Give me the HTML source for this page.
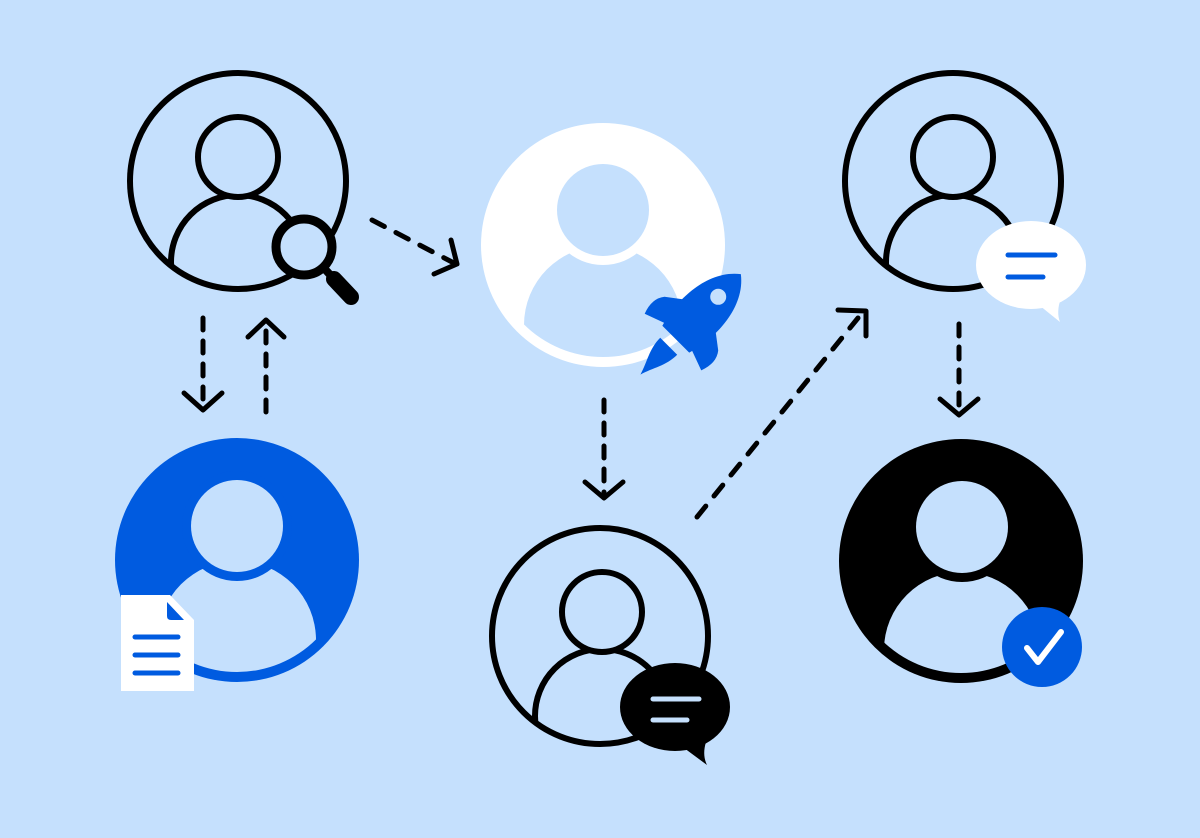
<!DOCTYPE html>
<html><head><style>html,body{margin:0;padding:0;background:#c5e0fd}svg{display:block}</style></head>
<body>
<svg width="1200" height="838" viewBox="0 0 1200 838" xmlns="http://www.w3.org/2000/svg">
<defs>
<clipPath id="c1"><circle cx="238" cy="181" r="106"/></clipPath>
<clipPath id="c4"><circle cx="600" cy="636" r="106"/></clipPath>
<clipPath id="c5"><circle cx="953" cy="181" r="106"/></clipPath>
<clipPath id="c2"><circle cx="603" cy="245" r="112"/></clipPath>
<clipPath id="c3"><circle cx="237" cy="560" r="112"/></clipPath>
<clipPath id="c6"><circle cx="961" cy="561" r="112"/></clipPath>
</defs>
<rect width="1200" height="838" fill="#c5e0fd"/>
<g fill="none" stroke="#000" stroke-width="6">
<circle cx="238" cy="181" r="108"/>
<circle cx="238" cy="262" r="67" clip-path="url(#c1)"/>
<circle cx="238" cy="157" r="40" fill="#c5e0fd"/>
<circle cx="600" cy="636" r="108"/>
<circle cx="602" cy="716" r="67" clip-path="url(#c4)"/>
<circle cx="602" cy="612" r="40" fill="#c5e0fd"/>
<circle cx="953" cy="181" r="108"/>
<circle cx="953" cy="262" r="67" clip-path="url(#c5)"/>
<circle cx="953" cy="157" r="40" fill="#c5e0fd"/>
</g>
<!-- magnifier -->
<line x1="334" y1="279" x2="351" y2="297" stroke="#000" stroke-width="16" stroke-linecap="round"/>
<line x1="322" y1="266" x2="334" y2="279" stroke="#000" stroke-width="8"/>
<circle cx="304" cy="247" r="28" fill="#c5e0fd" stroke="#000" stroke-width="9"/>
<!-- white avatar -->
<circle cx="603" cy="245" r="122" fill="#fff"/>
<circle cx="603" cy="325" r="79" fill="#c5e0fd" clip-path="url(#c2)"/>
<circle cx="603" cy="210" r="55" fill="#fff"/>
<circle cx="603" cy="210" r="46" fill="#c5e0fd"/>
<!-- rocket -->
<g transform="translate(697,318) rotate(45)" fill="#005be0">
<path d="M0,-62 C26,-42 28,0 19,30 L-19,30 C-28,0 -26,-42 0,-62Z"/>
<path d="M-17,-8 L-38,8 Q-46,18 -40,34 L-18,26Z"/>
<path d="M17,-8 L38,8 Q46,18 40,34 L18,26Z"/>
<path d="M-12,40 L12,40 C12,56 4,66 0,80 C-4,66 -12,56 -12,40Z"/>
<circle cx="0" cy="-30" r="8" fill="#c5e0fd"/>
</g>
<!-- blue avatar -->
<circle cx="237" cy="560" r="122" fill="#005be0"/>
<circle cx="237" cy="640" r="79" fill="#c5e0fd" clip-path="url(#c3)"/>
<circle cx="237" cy="526" r="55" fill="#005be0"/>
<circle cx="237" cy="526" r="46" fill="#c5e0fd"/>
<path d="M121,595 L170,595 L194,620 L194,691 L121,691Z" fill="#fff"/>
<path d="M167,602 L167,616 Q167,620 171,620 L184,620Z" fill="#005be0"/>
<g stroke="#005be0" stroke-width="5" stroke-linecap="round">
<line x1="135" y1="637" x2="178" y2="637"/><line x1="135" y1="655" x2="178" y2="655"/><line x1="135" y1="673" x2="178" y2="673"/>
</g>
<!-- black avatar -->
<circle cx="961" cy="561" r="122" fill="#000"/>
<circle cx="962" cy="650" r="78" fill="#c5e0fd" clip-path="url(#c6)"/>
<circle cx="962" cy="527" r="55" fill="#000"/>
<circle cx="962" cy="527" r="46" fill="#c5e0fd"/>
<circle cx="1042" cy="647" r="40" fill="#005be0"/>
<path d="M1027,648 L1038,662 L1061,632" fill="none" stroke="#fff" stroke-width="6" stroke-linecap="round" stroke-linejoin="round"/>
<!-- black bubble -->
<ellipse cx="675" cy="707" rx="55" ry="44" fill="#000"/>
<path d="M680,745 L707,765 Q702,755 706,742Z" fill="#000"/>
<g stroke="#c5e0fd" stroke-width="5" stroke-linecap="round"><line x1="653" y1="699" x2="699" y2="699"/><line x1="653" y1="720" x2="687" y2="720"/></g>
<!-- white bubble -->
<ellipse cx="1031" cy="265" rx="55" ry="44" fill="#fff"/>
<path d="M1034,301 L1060,322 Q1056,312 1061,298Z" fill="#fff"/>
<g stroke="#005be0" stroke-width="5" stroke-linecap="round"><line x1="1008" y1="255" x2="1055" y2="255"/><line x1="1008" y1="277" x2="1043" y2="277"/></g>
<!-- arrows -->
<g fill="none" stroke="#000" stroke-width="5" stroke-linecap="round" stroke-linejoin="round">
<path d="M203,318 L203,406" stroke-dasharray="12,11"/><path d="M184,393 L203,410 L222,393"/>
<path d="M266,412 L266,324" stroke-dasharray="12,11"/><path d="M248,337 L266,320 L284,337"/>
<path d="M372,220 L452,262" stroke-dasharray="14,13"/><path d="M434,274 L457,264 L451,240"/>
<path d="M604,400 L604,494" stroke-dasharray="12,11"/><path d="M585,482 L604,498 L623,482"/>
<path d="M697,517 L858,318" stroke-dasharray="14,13"/><path d="M838,310 L866,311 L866,336"/>
<path d="M959,324 L959,410" stroke-dasharray="12,11"/><path d="M940,399 L959,415 L978,399"/>
</g>
</svg>
</body></html>
